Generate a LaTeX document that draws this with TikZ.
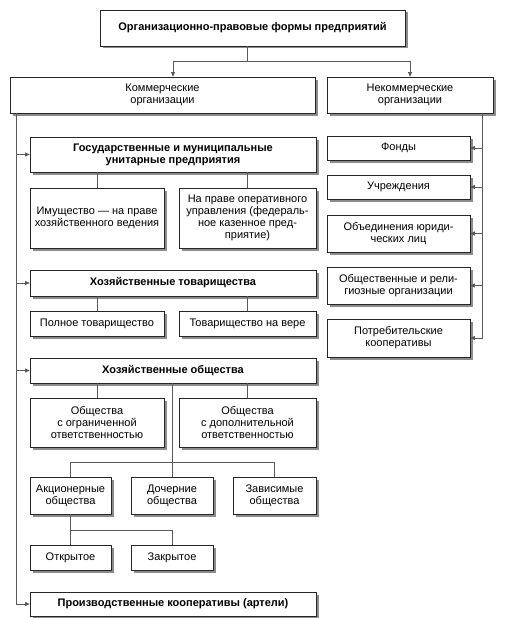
\documentclass[tikz,border=0pt]{standalone}
\usepackage{fontspec}
\setmainfont{Liberation Sans}
\usetikzlibrary{arrows.meta,shadows}

\tikzset{
    box/.style={draw=black!85, line width=0.7pt, fill=white, align=center, inner sep=2pt,
        font=\fontsize{11}{12.2}\selectfont,
        drop shadow={shadow xshift=2.5pt, shadow yshift=-2.5pt, fill=black!45, opacity=1}},
    head/.style={box, font=\fontsize{11}{12.2}\selectfont\bfseries},
    link/.style={draw=black!65, line width=0.9pt},
    arr/.style={link, -{Triangle[length=4.5pt,width=4pt]}}
}

\begin{document}
\begin{tikzpicture}[x=1pt,y=-1pt]
    \useasboundingbox (0,0) rectangle (506,618);
    % top level
    \node[head, minimum width=305pt, minimum height=36pt] (top) at (252.5,28) {Организационно-правовые формы предприятий};
    \node[box, minimum width=305pt, minimum height=36pt] (kom) at (162.5,95) {Коммерческие\\организации};
    \node[box, minimum width=166pt, minimum height=36pt] (nekom) at (410,95) {Некоммерческие\\организации};
    % commercial
    \node[head, minimum width=286pt, minimum height=35pt] (gmup) at (173,154.5) {Государственные и муниципальные\\унитарные предприятия};
    \node[box, minimum width=134pt, minimum height=60pt] (imush) at (97,218) {Имущество — на праве\\хозяйственного ведения};
    \node[box, minimum width=137pt, minimum height=60pt] (oper) at (247.5,218) {На праве оперативного\\управления (федераль-\\ное казенное пред-\\приятие)};
    \node[head, minimum width=286pt, minimum height=26pt] (htov) at (173,283) {Хозяйственные товарищества};
    \node[box, minimum width=134pt, minimum height=25pt] (poln) at (97,323.5) {Полное товарищество};
    \node[box, minimum width=137pt, minimum height=25pt] (vera) at (247.5,323.5) {Товарищество на вере};
    \node[head, minimum width=286pt, minimum height=25pt] (hob) at (173,370.5) {Хозяйственные общества};
    \node[box, minimum width=134pt, minimum height=49pt] (ooo) at (97,422.5) {Общества\\с ограниченной\\ответственностью};
    \node[box, minimum width=137pt, minimum height=49pt] (odo) at (247.5,422.5) {Общества\\с дополнительной\\ответственностью};
    \node[box, minimum width=81pt, minimum height=37pt] (ao) at (70.5,495.5) {Акционерные\\общества};
    \node[box, minimum width=82pt, minimum height=37pt] (doch) at (172,495.5) {Дочерние\\общества};
    \node[box, minimum width=83pt, minimum height=37pt] (zav) at (274.5,495.5) {Зависимые\\общества};
    \node[box, minimum width=81pt, minimum height=25pt] (otkr) at (70.5,557.5) {Открытое};
    \node[box, minimum width=82pt, minimum height=25pt] (zakr) at (172,557.5) {Закрытое};
    \node[head, minimum width=286pt, minimum height=24pt] (proizv) at (173,604) {Производственные кооперативы (артели)};
    % non-commercial
    \node[box, minimum width=143pt, minimum height=24pt] (fondy) at (398.5,148) {Фонды};
    \node[box, minimum width=143pt, minimum height=24pt] (uchr) at (398.5,187) {Учреждения};
    \node[box, minimum width=143pt, minimum height=37pt] (obyed) at (398.5,233.5) {Объединения юриди-\\ческих лиц};
    \node[box, minimum width=143pt, minimum height=37pt] (obsh) at (398.5,285.5) {Общественные и рели-\\гиозные организации};
    \node[box, minimum width=143pt, minimum height=38pt] (potr) at (398.5,338) {Потребительские\\кооперативы};

    % connectors
    \draw[link] (top.south -| oper) -- ++(0,15) coordinate (s0);
    \draw[arr] (s0) -| (kom.north -| gmup);
    \draw[arr] (s0) -| (nekom.north);

    \draw[arr] (kom.south west) ++(7,0) coordinate (lt) |- (proizv.west);
    \draw[arr] (lt |- gmup.west) -- (gmup.west);
    \draw[arr] (lt |- htov.west) -- (htov.west);
    \draw[arr] (lt |- hob.west) -- (hob.west);

    \draw[arr] (nekom.south east) ++(-11,0) coordinate (rt) |- (potr.east);
    \draw[arr] (rt |- fondy.east) -- (fondy.east);
    \draw[arr] (rt |- uchr.east) -- (uchr.east);
    \draw[arr] (rt |- obyed.east) -- (obyed.east);
    \draw[arr] (rt |- obsh.east) -- (obsh.east);

    \draw[link] (gmup.south -| imush) -- (imush.north);
    \draw[link] (gmup.south -| oper) -- (oper.north);
    \draw[link] (htov.south -| poln) -- (poln.north);
    \draw[link] (htov.south -| vera) -- (vera.north);
    \draw[link] (hob.south -| ooo) -- (ooo.north);
    \draw[link] (hob.south -| odo) -- (odo.north);
    \draw[link] (hob.south -| doch) -- (doch.north);
    \draw[link] (ao.north) -- ++(0,-14) -| (zav.north);
    \draw[link] (ao.south) -- (otkr.north);
    \draw[link] (ao.south) ++(0,16) -| (zakr.north);
\end{tikzpicture}
\end{document}
